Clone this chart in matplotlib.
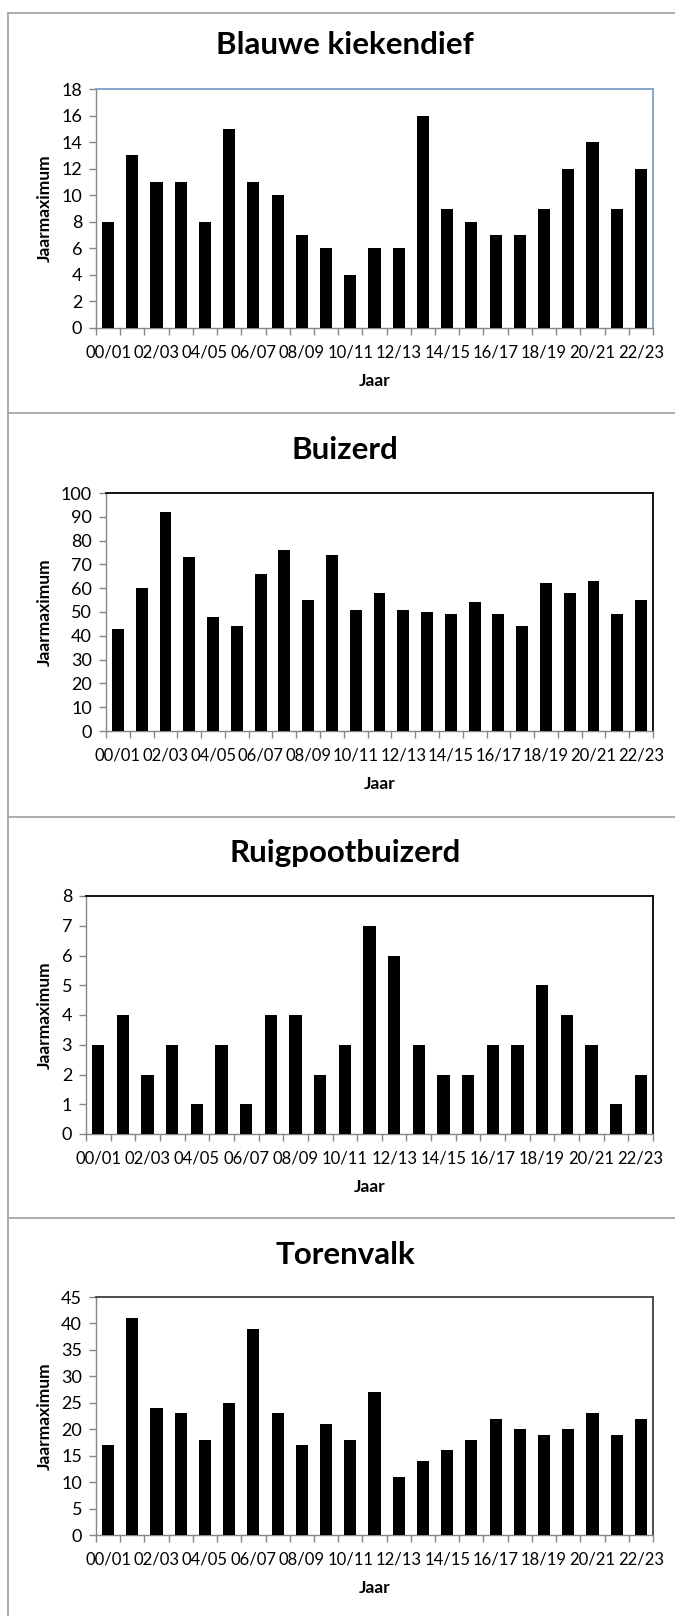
import matplotlib
matplotlib.use("Agg")
import matplotlib.pyplot as plt
import numpy as np

plt.rcParams['font.family'] = ['Lato', 'DejaVu Sans']

# seasons 00/01 .. 22/23
seasons = ["%02d/%02d" % (y, y + 1) for y in range(0, 23)]

blauwe_kiekendief = [8, 13, 11, 11, 8, 15, 11, 10, 7, 6, 4, 6, 6, 16, 9, 8, 7, 7, 9, 12, 14, 9, 12]
buizerd = [43, 60, 92, 73, 48, 44, 66, 76, 55, 74, 51, 58, 51, 50, 49, 54, 49, 44, 62, 58, 63, 49, 55]
ruigpootbuizerd = [3, 4, 2, 3, 1, 3, 1, 4, 4, 2, 3, 7, 6, 3, 2, 2, 3, 3, 5, 4, 3, 1, 2]
torenvalk = [17, 41, 24, 23, 18, 25, 39, 23, 17, 21, 18, 27, 11, 14, 16, 18, 22, 20, 19, 20, 23, 19, 22]

W, H = 675, 1616

# title, values, ymax, ystep, axes box in px (left, top, right, bottom), frame colour, title y
panels = [
    ("Blauwe kiekendief", blauwe_kiekendief, 18, 2, (96, 89, 653, 328), "#7BA0CD", 45),
    ("Buizerd", buizerd, 100, 10, (106, 493, 653, 731), "#000000", 450),
    ("Ruigpootbuizerd", ruigpootbuizerd, 8, 1, (86, 896, 653, 1134), "#000000", 853),
    ("Torenvalk", torenvalk, 45, 5, (96, 1297, 653, 1535), "#404040", 1255),
]

fig = plt.figure(figsize=(W / 100, H / 100), dpi=100)

# panel borders
border = "#A6A6A6"
for yb in [13, 413, 817, 1218]:
    fig.add_artist(plt.Line2D([8 / W, 1], [1 - yb / H, 1 - yb / H], color=border, lw=1.3))
fig.add_artist(plt.Line2D([8 / W, 8 / W], [1 - 13 / H, 0], color=border, lw=1.3))

x = np.arange(len(seasons))
for title, vals, ymax, ystep, (l, t, r, b), frame, ty in panels:
    ax = fig.add_axes([l / W, 1 - b / H, (r - l) / W, (b - t) / H])
    ax.bar(x, vals, width=0.5, color="black", zorder=3)
    ax.set_xlim(-0.5, len(seasons) - 0.5)
    ax.set_ylim(0, ymax)
    ax.set_yticks(np.arange(0, ymax + ystep / 2, ystep))

    ax.set_xticks(x[::2])
    ax.set_xticklabels(seasons[::2])
    ax.set_xticks(np.arange(-0.5, len(seasons)), minor=True)
    ax.tick_params(axis="x", which="major", length=0, pad=12, labelsize=12)
    ax.tick_params(axis="x", which="minor", length=5, color="#868686", width=1)
    ax.tick_params(axis="y", length=5, color="#868686", width=1, labelsize=13, pad=5)

    for s in ["left", "bottom"]:
        ax.spines[s].set_color("#868686")
        ax.spines[s].set_linewidth(1)
    for s in ["top", "right"]:
        ax.spines[s].set_color(frame)
        ax.spines[s].set_linewidth(1.3)

    ax.set_ylabel("Jaarmaximum", fontsize=12.5, fontweight="bold", labelpad=6)
    ax.set_xlabel("Jaar", fontsize=12.5, fontweight="bold", labelpad=9)
    fig.text(345 / W, 1 - ty / H, title, fontsize=22.5, fontweight="bold",
             ha="center", va="center")

fig.savefig("out.png", dpi=100)
